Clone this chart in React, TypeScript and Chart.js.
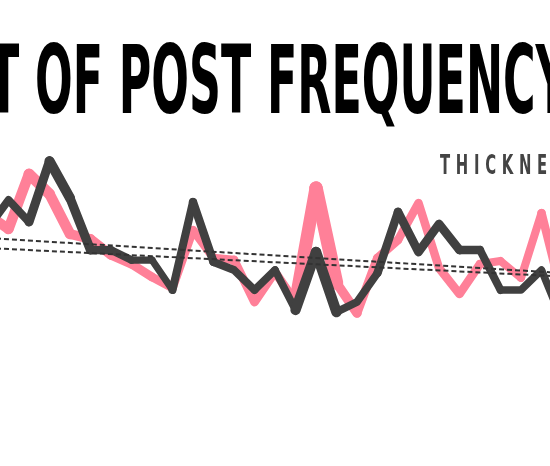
import React, { useEffect, useLayoutEffect, useRef } from 'react';
import { Chart, registerables } from 'chart.js';

Chart.register(...registerables);

// ---- data ----
const weeks = [
  'W1', 'W2', 'W3', 'W4', 'W5', 'W6', 'W7', 'W8', 'W9', 'W10',
  'W11', 'W12', 'W13', 'W14', 'W15', 'W16', 'W17', 'W18', 'W19', 'W20',
  'W21', 'W22', 'W23', 'W24', 'W25', 'W26', 'W27', 'W28', 'W29',
];
const darkPosts = [
  17.2, 20.0, 17.8, 23.9, 20.2, 15.0, 15.0, 14.0, 14.0, 11.0,
  19.8, 13.8, 13.0, 11.0, 13.0, 9.0, 14.8, 8.8, 9.8, 12.7,
  18.8, 14.8, 17.6, 15.0, 15.0, 11.0, 11.0, 13.0, 8.0,
];
const pinkPosts = [
  18.5, 17.1, 22.6, 20.6, 16.6, 16.1, 14.5, 13.6, 12.3, 11.2,
  17.0, 14.2, 14.0, 9.8, 12.8, 9.8, 21.2, 11.7, 8.7, 14.2,
  16.0, 19.7, 13.2, 10.6, 13.6, 13.9, 12.2, 18.7, 10.5,
];
// engagement ("thickness") per point
const darkEngagement = [
  80, 80, 80, 100, 100, 85, 80, 75, 70, 70,
  90, 80, 80, 80, 75, 75, 130, 80, 75, 80,
  90, 85, 90, 85, 85, 75, 75, 75, 75,
];
const pinkEngagement = [
  100, 100, 110, 110, 100, 100, 95, 90, 90, 85,
  85, 85, 85, 90, 85, 90, 170, 100, 90, 90,
  85, 85, 85, 85, 85, 80, 75, 85, 85,
];
const upperTrend = [16.2, 12.7];
const lowerTrend = [15.2, 12.35];
const titleText = 'T OF POST FREQUENCY';
const subtitleText = 'THICKNESS';

const PINK = 'rgb(255,128,152)';
const DARK = 'rgb(64,64,64)';
const TITLE_FONT = '"DejaVu Sans", "Liberation Sans", sans-serif';

const widthOf = (v: number) => v / 10;

const trendData = (pair: number[]) =>
  weeks.map((_, i) => (i === 0 ? pair[0] : i === weeks.length - 1 ? pair[1] : null));

function rangeRect(el: HTMLElement, start: number, end: number) {
  const node = el.firstChild as Text;
  const r = document.createRange();
  r.setStart(node, start);
  r.setEnd(node, end);
  return r.getBoundingClientRect();
}

export default function App() {
  const canvasRef = useRef<HTMLCanvasElement | null>(null);
  const titleRef = useRef<HTMLDivElement | null>(null);
  const subRef = useRef<HTMLDivElement | null>(null);

  useLayoutEffect(() => {
    const t = titleRef.current;
    if (t) {
      t.style.transform = 'none';
      t.style.left = '0px';
      t.style.wordSpacing = '0px';
      const base = t.getBoundingClientRect().left;
      const pO = rangeRect(t, 2, 3).left - base;
      const pP = rangeRect(t, 5, 6).left - base;
      const pF = rangeRect(t, 10, 11).left - base;
      const pN = rangeRect(t, 16, 17).right - base;
      const s = (503 - 267) / (pN - pF);
      const ws1 = 82 / s - (pP - pO);
      const ws2 = 150 / s - (pF - pP);
      const ws = (ws1 + ws2) / 2;
      t.style.wordSpacing = `${ws}px`;
      t.style.left = `${35 - s * (pO + ws)}px`;
      t.style.transform = `scaleX(${s})`;
    }
    const u = subRef.current;
    if (u) {
      u.style.transform = 'none';
      u.style.letterSpacing = '0px';
      const base = u.getBoundingClientRect().left;
      const eStart = rangeRect(u, 6, 7).left - base;
      const s2 = 0.55;
      const ls = (97 / s2 - eStart) / 6;
      u.style.letterSpacing = `${ls}px`;
      u.style.transform = `scaleX(${s2})`;
    }
  }, []);

  useEffect(() => {
    if (!canvasRef.current) return;
    const chart = new Chart(canvasRef.current, {
      type: 'line',
      data: {
        labels: weeks,
        datasets: [
          {
            label: 'Upper trend',
            data: trendData(upperTrend),
            borderColor: '#333',
            borderWidth: 2,
            borderDash: [5, 3],
            pointRadius: 0,
            spanGaps: true,
            fill: false,
            order: 0,
          },
          {
            label: 'Lower trend',
            data: trendData(lowerTrend),
            borderColor: '#333',
            borderWidth: 2,
            borderDash: [5, 3],
            pointRadius: 0,
            spanGaps: true,
            fill: false,
            order: 0,
          },
          {
            label: 'Dark',
            data: darkPosts,
            borderColor: DARK,
            borderWidth: 8,
            borderJoinStyle: 'round',
            borderCapStyle: 'round',
            pointRadius: 0,
            tension: 0,
            fill: false,
            order: 1,
            segment: {
              borderWidth: (ctx: any) =>
                widthOf((darkEngagement[ctx.p0DataIndex] + darkEngagement[ctx.p1DataIndex]) / 2),
            },
          },
          {
            label: 'Pink',
            data: pinkPosts,
            borderColor: PINK,
            borderWidth: 10,
            borderJoinStyle: 'round',
            borderCapStyle: 'round',
            pointRadius: 0,
            tension: 0,
            fill: false,
            order: 2,
            segment: {
              borderWidth: (ctx: any) =>
                widthOf((pinkEngagement[ctx.p0DataIndex] + pinkEngagement[ctx.p1DataIndex]) / 2),
            },
          },
        ],
      },
      options: {
        responsive: false,
        animation: false,
        devicePixelRatio: 1,
        layout: { padding: 0 },
        plugins: {
          legend: { display: false },
          tooltip: { enabled: false },
          title: { display: false },
        },
        scales: {
          x: { type: 'category', display: false, offset: false },
          y: { display: false, min: 0, max: 40 },
        },
      } as any,
    });
    return () => chart.destroy();
  }, []);

  return (
    <div
      style={{
        position: 'fixed',
        left: 0,
        top: 0,
        width: 550,
        height: 466,
        overflow: 'hidden',
        background: '#fff',
      }}
    >
      <canvas
        ref={canvasRef}
        width={574}
        height={400}
        style={{ position: 'absolute', left: -12, top: 0, width: 574, height: 400 }}
      />
      <div
        ref={titleRef}
        style={{
          position: 'absolute',
          top: 33,
          left: 0,
          fontFamily: TITLE_FONT,
          fontWeight: 'bold',
          fontSize: 95,
          lineHeight: '95px',
          whiteSpace: 'nowrap',
          color: '#000',
          transformOrigin: '0 0',
        }}
      >
        {titleText}
      </div>
      <div
        ref={subRef}
        style={{
          position: 'absolute',
          top: 151,
          left: 440,
          fontFamily: TITLE_FONT,
          fontWeight: 'bold',
          fontSize: 27,
          lineHeight: '27px',
          whiteSpace: 'nowrap',
          color: '#444',
          transformOrigin: '0 0',
        }}
      >
        {subtitleText}
      </div>
    </div>
  );
}
